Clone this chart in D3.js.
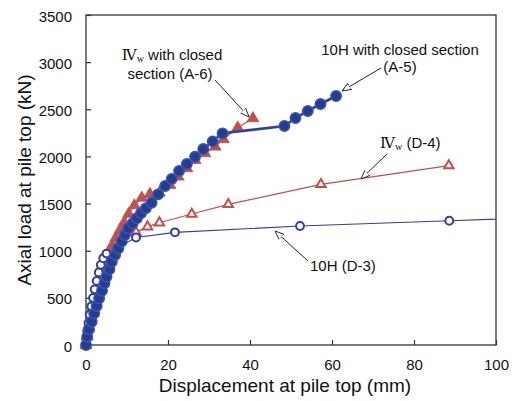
<!DOCTYPE html>
<html lang="en">
<head>
    <meta charset="UTF-8">
    <title>Axial load vs displacement</title>
    <script src="https://d3js.org/d3.v7.min.js"></script>
    <style>
        body { margin: 0; background: #fff; }
        text { font-family: "Liberation Sans", Arial, sans-serif; fill: #111; }
    </style>
</head>
<body>
    <div id="graph"></div>
    <script>
        // tick labels
        const xTicks = [0, 20, 40, 60, 80, 100];
        const yTicks = [0, 500, 1000, 1500, 2000, 2500, 3000, 3500];

        // D-4 : IVw (open red triangles) [displacement mm, load kN]
        const d4 = [
            [0, 0], [0.3, 100], [0.7, 200], [1.2, 300], [1.7, 400], [2.3, 500], [2.9, 600],
            [3.6, 700], [4.3, 800], [5.1, 900], [6.0, 990], [7.2, 1070], [8.6, 1130],
            [12.2, 1195], [15.0, 1255], [17.9, 1297], [25.8, 1389], [34.7, 1492],
            [57.3, 1704], [88.5, 1902]
        ];

        // A-6 : IVw with closed section (filled red triangles)
        const a6 = [
            [0, 0], [0.3, 90], [0.7, 180], [1.1, 270], [1.6, 360], [2.1, 450], [2.6, 540],
            [3.2, 630], [3.8, 720], [4.4, 810], [5.0, 900], [5.7, 980], [6.4, 1060],
            [7.3, 1140], [8.3, 1220], [9.3, 1300], [10.4, 1390], [11.8, 1480], [13.6, 1560],
            [15.6, 1600], [17.9, 1615], [20.5, 1697], [22.5, 1785], [24.6, 1874],
            [26.6, 1962], [29.0, 2033], [31.5, 2103], [33.5, 2182], [37.0, 2305], [40.7, 2404]
        ];

        // D-3 : 10H (open blue circles)
        const d3s = [
            [0, 0], [0.1, 70], [0.3, 150], [0.6, 230], [0.9, 320], [1.3, 410],
            [1.7, 500], [2.1, 590], [2.6, 680], [3.1, 770], [3.6, 850],
            [4.2, 920], [5.0, 970], [12.2, 1140], [21.7, 1195], [52.2, 1262],
            [88.6, 1318], [110, 1350]
        ];

        // A-5 : 10H with closed section (filled blue circles)
        const a5 = [
            [0, 0], [0.3, 88], [0.7, 167], [1.4, 247], [2.0, 336], [2.6, 414], [3.2, 495],
            [3.9, 576], [4.5, 654], [5.0, 724], [5.7, 803], [6.3, 883], [7.1, 955],
            [7.9, 1026], [8.7, 1096], [9.5, 1167], [10.3, 1238], [11.4, 1291], [12.4, 1344],
            [13.4, 1397], [14.6, 1450], [16.0, 1509], [17.6, 1598], [19.3, 1686],
            [20.9, 1761], [22.7, 1845], [24.6, 1920], [26.6, 1997], [28.6, 2079],
            [30.9, 2160], [33.3, 2245], [48.4, 2323], [51.1, 2407], [54.1, 2482],
            [57.2, 2556], [61.0, 2641]
        ];

        const red = "#c0504d", blue = "#2f3fa6", navy = "#233f8c";
        const W = 515, H = 401;
        const plot = {left: 86, right: 496, top: 15, bottom: 345};

        const svg = d3.select("#graph")
            .append("svg")
            .attr("width", W)
            .attr("height", H);

        const x = d3.scaleLinear().domain([0, 100]).range([plot.left, plot.right]);
        const y = d3.scaleLinear().domain([0, 3500]).range([plot.bottom, plot.top]);

        svg.append("clipPath").attr("id", "clip")
            .append("rect")
            .attr("x", plot.left).attr("y", plot.top)
            .attr("width", plot.right - plot.left)
            .attr("height", plot.bottom - plot.top);

        // axes (ticks point inside)
        const gx = svg.append("g")
            .attr("transform", `translate(0,${plot.bottom})`)
            .call(d3.axisBottom(x).tickValues(xTicks).tickFormat(d3.format("d"))
                .tickSizeInner(-5).tickSizeOuter(0).tickPadding(14));
        const gy = svg.append("g")
            .attr("transform", `translate(${plot.left},0)`)
            .call(d3.axisLeft(y).tickValues(yTicks).tickFormat(d3.format("d"))
                .tickSizeInner(-5).tickSizeOuter(0).tickPadding(14));
        [gx, gy].forEach(g => {
            g.select(".domain").remove();
            g.selectAll("line").attr("stroke", "#333").attr("stroke-width", 1.2);
            g.selectAll("text").style("font-size", "15px").attr("font-family", null).attr("fill", "#111");
        });
        gx.selectAll("text").attr("dy", "0.75em");
        gy.selectAll("text").attr("dy", "0.4em");

        svg.append("rect")
            .attr("x", plot.left).attr("y", plot.top)
            .attr("width", plot.right - plot.left)
            .attr("height", plot.bottom - plot.top)
            .attr("fill", "none").attr("stroke", "#333").attr("stroke-width", 1.3);

        // axis titles
        svg.append("text")
            .attr("x", 285).attr("y", 392)
            .attr("text-anchor", "middle")
            .style("font-size", "19px")
            .text("Displacement at pile top (mm)");
        svg.append("text")
            .attr("transform", `translate(31,${(plot.top + plot.bottom) / 2}) rotate(-90)`)
            .attr("text-anchor", "middle")
            .style("font-size", "19px")
            .text("Axial load at pile top (kN)");

        const line = d3.line().x(d => x(d[0])).y(d => y(d[1]));
        const inside = d => d[0] <= 100;

        function series(data, color, width, marker) {
            svg.append("path")
                .datum(data)
                .attr("clip-path", "url(#clip)")
                .attr("fill", "none")
                .attr("stroke", color)
                .attr("stroke-width", width)
                .attr("d", line);
            const g = svg.append("g");
            g.selectAll("path")
                .data(data.filter(inside))
                .join("path")
                .attr("transform", d => `translate(${x(d[0])},${y(d[1])})`)
                .attr("d", d3.symbol().type(marker.type).size(marker.size))
                .attr("fill", marker.fill)
                .attr("stroke", marker.stroke)
                .attr("stroke-width", marker.sw);
        }

        series(d4, red, 1.2, {type: d3.symbolTriangle, size: 38, fill: "#fff", stroke: red, sw: 2});
        series(a6, red, 1.2, {type: d3.symbolTriangle, size: 60, fill: red, stroke: red, sw: 0.8});
        series(d3s, blue, 1.2, {type: d3.symbolCircle, size: 48, fill: "#fff", stroke: blue, sw: 2});
        series(a5, blue, 2.6, {type: d3.symbolCircle, size: 85, fill: navy, stroke: "#3b52b8", sw: 1.5});

        // annotations
        svg.append("defs").append("marker")
            .attr("id", "head")
            .attr("viewBox", "0 0 10 10")
            .attr("refX", 10).attr("refY", 5)
            .attr("markerWidth", 9).attr("markerHeight", 9)
            .attr("markerUnits", "userSpaceOnUse")
            .attr("orient", "auto")
            .append("path")
            .attr("d", "M0,1 L10,5 L0,9 Z")
            .attr("fill", "#fff").attr("stroke", "#222").attr("stroke-width", 1);

        const arrows = [
            [215, 80, 249, 117],
            [381, 68, 342, 91],
            [387, 154, 361, 179],
            [308, 261, 275, 231]
        ];
        svg.selectAll(".arrow")
            .data(arrows)
            .join("line")
            .attr("class", "arrow")
            .attr("x1", d => d[0]).attr("y1", d => d[1])
            .attr("x2", d => d[2]).attr("y2", d => d[3])
            .attr("stroke", "#222").attr("stroke-width", 1)
            .attr("marker-end", "url(#head)");

        function ivw(t, xx, yy, anchor, rest) {
            const el = svg.append("text")
                .attr("x", xx).attr("y", yy)
                .attr("text-anchor", anchor)
                .style("font-size", "15px");
            el.append("tspan")
                .attr("font-family", "'Liberation Serif', 'DejaVu Serif', serif")
                .text(t);
            el.append("tspan")
                .attr("font-family", "'Liberation Serif', 'DejaVu Serif', serif")
                .style("font-size", "10px").attr("dy", 2).text("w");
            el.append("tspan").attr("dy", -2).text(rest);
        }

        ivw("Ⅳ", 172, 60, "middle", " with closed");
        svg.append("text").attr("x", 170).attr("y", 79).attr("text-anchor", "middle")
            .style("font-size", "15px").text("section (A-6)");

        svg.append("text").attr("x", 400).attr("y", 55).attr("text-anchor", "middle")
            .style("font-size", "15px").text("10H with closed section");
        svg.append("text").attr("x", 400).attr("y", 72).attr("text-anchor", "middle")
            .style("font-size", "15px").text("(A-5)");

        ivw("Ⅳ", 380, 148, "start", " (D-4)");
        svg.append("text").attr("x", 310).attr("y", 271)
            .style("font-size", "15px").text("10H (D-3)");
    </script>
</body>
</html>
